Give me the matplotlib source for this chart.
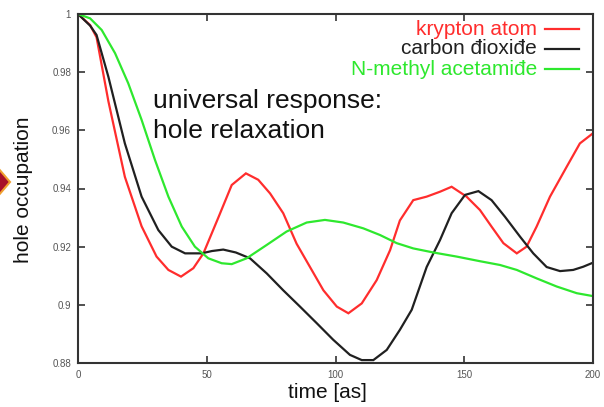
import matplotlib
matplotlib.use("Agg")
import matplotlib.pyplot as plt
from matplotlib.lines import Line2D
from matplotlib.patches import Polygon

plt.rcParams['font.family'] = ['Liberation Sans', 'DejaVu Sans']

# ---- data ----
series_names = ["krypton atom", "carbon đioxiđe", "N-methyl acetamiđe"]
series_colors = ["#ff2d2d", "#202020", "#2ee82e"]

t_krypton = [0, 4.7, 7.2, 11.8, 18.2, 24.7, 30.5, 35.1, 40, 44.8, 48.7, 54.5, 59.7, 65.2,
             70, 74.6, 79.7, 84.9, 90.1, 95.3, 100.5, 105, 110.2, 116, 121.2, 125, 130.2,
             135.4, 140.6, 145.1, 150.9, 156.1, 160.6, 165.2, 170.4, 174.2, 178.1, 183.3,
             189.8, 194.9, 200]
v_krypton = [1, 0.9962, 0.992, 0.970, 0.944, 0.927, 0.9166, 0.912, 0.9097, 0.9126, 0.9177,
             0.930, 0.9412, 0.9452, 0.943, 0.9383, 0.9315, 0.921, 0.913, 0.905, 0.8994,
             0.8971, 0.9005, 0.9085, 0.9188, 0.929, 0.936, 0.9372, 0.9389, 0.9406, 0.9372,
             0.9326, 0.9269, 0.9212, 0.9177, 0.920, 0.9269, 0.9372, 0.9475, 0.9555, 0.959]

t_co2 = [0, 4.7, 7.2, 11.8, 18.2, 24.7, 31.2, 36.4, 41.6, 48, 52, 56.4, 61.3, 66.8, 73.3,
         79.7, 86.2, 92.7, 99.1, 105.6, 110.2, 114.7, 119.9, 125, 129.6, 135.4, 140.6,
         145.1, 150.3, 155.5, 160.6, 165.8, 171.7, 176.8, 182, 187.2, 192.3, 196.2, 200]
v_co2 = [1, 0.996, 0.9928, 0.9784, 0.9555, 0.9372, 0.9257, 0.92, 0.9177, 0.9177, 0.9185,
         0.919, 0.918, 0.916, 0.9108, 0.905, 0.8994, 0.8937, 0.888, 0.8828, 0.881, 0.881,
         0.8845, 0.8914, 0.8983, 0.913, 0.9223, 0.9315, 0.9378, 0.9391, 0.936, 0.9303,
         0.9234, 0.9177, 0.913, 0.9116, 0.912, 0.9131, 0.9145]

t_nma = [0, 4.7, 9.2, 14.4, 19.5, 24.7, 29.9, 35.1, 40.3, 45.4, 50.6, 55.8, 59.7, 65.5,
         73.3, 81, 88.8, 95.9, 103, 110.8, 117.3, 123.8, 130.2, 138, 147, 156.1, 163.9,
         170.4, 178.1, 185.9, 193.7, 200]
v_nma = [1, 0.9985, 0.9945, 0.9865, 0.9762, 0.9636, 0.9498, 0.9372, 0.9269, 0.92, 0.916,
         0.9143, 0.914, 0.916, 0.9206, 0.9252, 0.9283, 0.9292, 0.9283, 0.9263, 0.924,
         0.9212, 0.9194, 0.918, 0.9166, 0.915, 0.9137, 0.912, 0.9091, 0.9063, 0.904, 0.903]

x_ticks = [0, 50, 100, 150, 200]
x_ticklabels = ["0", "50", "100", "150", "200"]
y_ticks = [0.88, 0.90, 0.92, 0.94, 0.96, 0.98, 1.0]
y_ticklabels = ["0.88", "0.9", "0.92", "0.94", "0.96", "0.98", "1"]

x_label = "time [as]"
y_label = "hole occupation"
note = "universal response:\nhole relaxation"

# ---- figure ----
W, H = 604, 407
fig = plt.figure(figsize=(W / 100, H / 100), dpi=100)
fig.patch.set_facecolor("white")


def fx(x):
    return x / W


def fy(y):
    return 1 - y / H


ax = fig.add_axes([fx(78), fy(363), fx(593) - fx(78), fy(14) - fy(363)])

for t, v, c in zip([t_krypton, t_co2, t_nma], [v_krypton, v_co2, v_nma], series_colors):
    ax.plot(t, v, color=c, lw=1.6, solid_joinstyle="miter")

ax.set_xlim(0, 200)
ax.set_ylim(0.88, 1.0)
ax.set_xticks(x_ticks)
ax.set_xticklabels(x_ticklabels)
ax.set_yticks(y_ticks)
ax.set_yticklabels(y_ticklabels)
ax.tick_params(direction="in", length=5, width=1.2, color="#333333",
               labelsize=7, labelcolor="#555555", top=True, right=True, pad=5)
for s in ax.spines.values():
    s.set_color("#333333")
    s.set_linewidth(1.5)

# axis labels
fig.text(fx(24), fy(190), y_label, rotation=90, ha="center", va="center",
         fontsize=15, color="#111111")
fig.text(fx(327), fy(393), x_label, ha="center", va="center",
         fontsize=15, color="#111111")

# annotation
fig.text(fx(153), fy(89), note, ha="left", va="top", fontsize=19,
         linespacing=1.3, color="#111111")

# legend (right-aligned labels with line samples)
leg_text_y = [35, 54, 75]
leg_line_y = [29, 48.5, 69]
for name, c, ty, ly in zip(series_names, series_colors, leg_text_y, leg_line_y):
    fig.text(fx(537), fy(ty), name, ha="right", va="baseline", fontsize=15, color=c)
    fig.add_artist(Line2D([fx(545), fx(579)], [fy(ly), fy(ly)], color=c, lw=1.6,
                          transform=fig.transFigure))

# decorative arrow marker at left edge
fig.add_artist(Polygon([[fx(-2), fy(168)], [fx(10), fy(182)], [fx(-2), fy(196)]],
                       closed=True, facecolor="#a8102a", edgecolor="#f0a030", lw=1.5,
                       transform=fig.transFigure))

fig.savefig("out.png", dpi=100, facecolor="white")
